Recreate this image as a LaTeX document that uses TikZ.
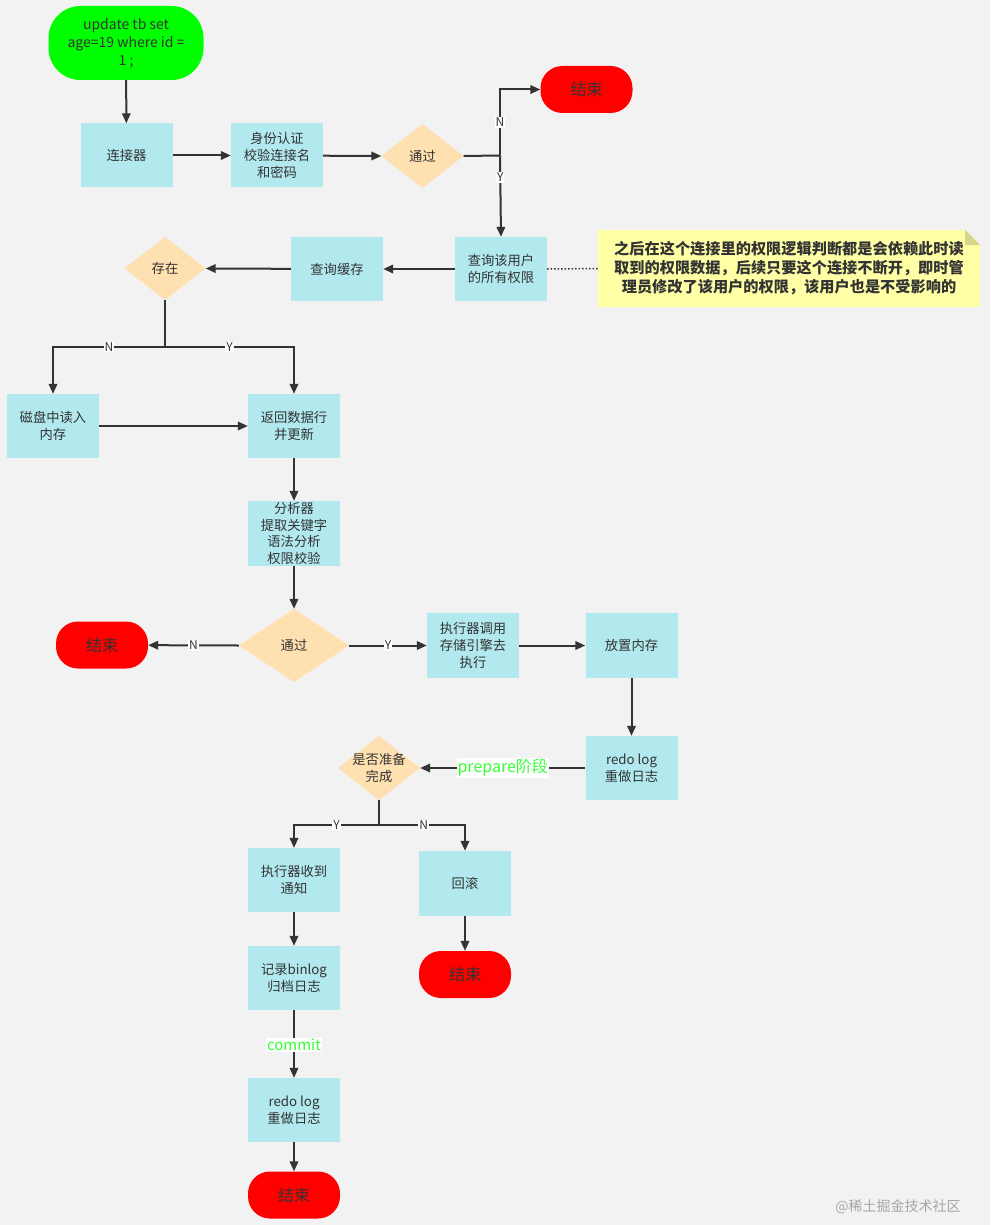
\documentclass[tikz,border=0pt]{standalone}
\usepackage{fontspec}
\setmainfont{Noto Sans CJK SC}
\usetikzlibrary{arrows.meta}
\definecolor{bg}{HTML}{F2F2F2}
\definecolor{boxc}{HTML}{B1E9EF}
\definecolor{dia}{HTML}{FFE0B0}
\definecolor{txt}{HTML}{333333}
\definecolor{notec}{HTML}{FFFFA6}
\definecolor{foldc}{HTML}{D6D68A}
\definecolor{lbl}{HTML}{33FF33}
\definecolor{startc}{HTML}{00FF00}
\begin{document}
\begin{tikzpicture}[x=1pt,y=-1pt,
  box/.style={fill=boxc, minimum width=92pt, minimum height=64pt, inner sep=1pt, align=center, text=txt, font=\fontsize{13.3}{16.8}\selectfont},
  dec/.style={minimum width=82pt, minimum height=64pt, inner sep=0pt, align=center, text=txt, font=\fontsize{13.3}{16.8}\selectfont,
    path picture={\fill[dia] (path picture bounding box.north) -- (path picture bounding box.east) -- (path picture bounding box.south) -- (path picture bounding box.west) -- cycle;}},
  term/.style={rounded corners=22pt, fill=red, minimum width=92pt, minimum height=47pt, text=txt, font=\fontsize{16}{18}\selectfont},
  arr/.style={draw=txt, line width=2pt, -{Triangle[length=10pt,width=8.5pt]}},
  ln/.style={draw=txt, line width=2pt},
  yn/.style={fill=white, inner sep=1pt, text=txt, font=\fontsize{12}{12}\selectfont},
  gl/.style={fill=white, inner sep=1pt, text=lbl, font=\fontsize{16}{16}\selectfont},
]
\fill[bg] (0,0) rectangle (990,1225);
\useasboundingbox (0,0) rectangle (990,1225);

% nodes
\node[term, fill=startc, minimum width=155pt, minimum height=74pt, rounded corners=32pt, align=center, font=\fontsize{14}{18}\selectfont] (start) at (126,43) {update tb set\\age=19 where id =\\1 ;};
\node[box] (conn) at (126.5,155.5) {连接器};
\node[box] (auth) at (277,155.5) {身份认证\\校验连接名\\和密码};
\node[dec] (pass1) at (422.5,156) {通过};
\node[term] (end1) at (586.5,89.5) {结束};
\node[box] (q) at (501,269) {查询该用户\\的所有权限};
\node[box] (cache) at (337,269) {查询缓存};
\node[dec, minimum width=81pt, minimum height=63pt] (ex) at (165,268.5) {存在};
\node[minimum width=382pt, minimum height=77pt, inner sep=0pt,
  path picture={
    \fill[notec] (path picture bounding box.south west) -- (path picture bounding box.north west) -- ([xshift=-15pt]path picture bounding box.north east) -- ([yshift=-15pt]path picture bounding box.north east) -- (path picture bounding box.south east) -- cycle;
    \fill[foldc] ([xshift=-15pt]path picture bounding box.north east) -- ([yshift=-15pt]path picture bounding box.north east) -- ([xshift=-15pt,yshift=-15pt]path picture bounding box.north east) -- cycle;
  }] (note) at (789,268.5) {};
\node[align=center, text=txt, font=\bfseries\fontsize{15.2}{19}\selectfont] (notet) at (note.center) {之后在这个连接里的权限逻辑判断都是会依赖此时读\\取到的权限数据，后续只要这个连接不断开，即时管\\理员修改了该用户的权限，该用户也是不受影响的};
\node[box] (disk) at (53,426) {磁盘中读入\\内存};
\node[box] (ret) at (294,426) {返回数据行\\并更新};
\node[box, minimum height=65pt] (ana) at (294,533.5) {分析器\\提取关键字\\语法分析\\权限校验};
\node[dec, minimum width=110pt, minimum height=73pt] (pass2) at (294,645.5) {通过};
\node[term] (end2) at (102,645) {结束};
\node[box, minimum height=65pt] (exec) at (473,645.5) {执行器调用\\存储引擎去\\执行};
\node[box, minimum height=65pt] (put) at (631.5,645.5) {放置内存};
\node[box] (redo1) at (631.5,768) {redo log\\重做日志};
\node[dec] (ready) at (379,768) {是否准备\\完成};
\node[box] (recv) at (294,880) {执行器收到\\通知};
\node[box, minimum height=65pt] (rb) at (465,883.5) {回滚};
\node[term] (end3) at (465,974.5) {结束};
\node[box] (bin) at (294,978) {记录binlog\\归档日志};
\node[box] (redo2) at (294,1110) {redo log\\重做日志};
\node[term] (end4) at (294,1195) {结束};
\node[text=black!35, font=\fontsize{14}{14}\selectfont] (wm) at (898,1207) {@稀土掘金技术社区};

% junctions
\coordinate (j1) at (500,155.5);
\coordinate (j2) at (165,347);
\coordinate (j3) at (379,825);

% connectors
\draw[arr] (start) -- (conn);
\draw[arr] (conn) -- (auth);
\draw[arr] (auth) -- (pass1.west);
\draw[ln] (pass1.east) -- (j1);
\draw[arr] (j1) |- (end1.west) node[yn, pos=0.25] {N};
\draw[arr] (j1) -- (q.north) node[yn, pos=0.27] {Y};
\draw[arr] (q) -- (cache);
\draw[arr] (cache) -- (ex.east);
\draw[dotted, line width=1.5pt, txt] (q.east) -- (note.west);
\draw[ln] (ex.south) -- (j2);
\draw[arr] (j2) -| (disk.north) node[yn, pos=0.25] {N};
\draw[arr] (j2) -| (ret.north) node[yn, pos=0.25] {Y};
\draw[arr] (disk) -- (ret);
\draw[arr] (ret) -- (ana);
\draw[arr] (ana) -- (pass2.north);
\draw[arr] (pass2.west) -- (end2) node[yn, midway] {N};
\draw[arr] (pass2.east) -- (exec) node[yn, midway] {Y};
\draw[arr] (exec) -- (put);
\draw[arr] (put) -- (redo1);
\draw[arr] (redo1) -- (ready.east) node[gl, midway] {prepare阶段};
\draw[ln] (ready.south) -- (j3);
\draw[arr] (j3) -| (recv.north) node[yn, pos=0.25] {Y};
\draw[arr] (j3) -| (rb.north) node[yn, pos=0.26] {N};
\draw[arr] (rb) -- (end3);
\draw[arr] (recv) -- (bin);
\draw[arr] (bin) -- (redo2) node[gl, font=\fontsize{15}{15}\selectfont, pos=0.51] {commit};
\draw[arr] (redo2) -- (end4);
\end{tikzpicture}
\end{document}
